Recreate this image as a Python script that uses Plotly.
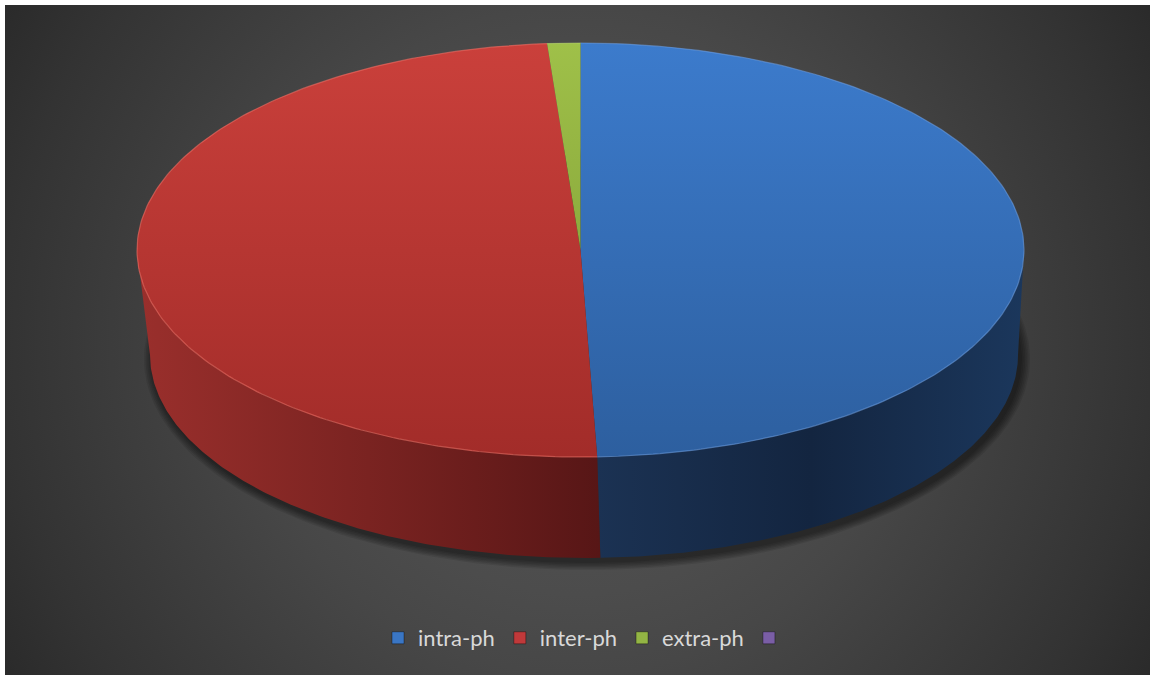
import numpy as np
import plotly.graph_objects as go

# ---- data ----
categories = ["intra-ph", "inter-ph", "extra-ph", " "]
values = [49.4, 49.4, 1.2, 0.0]

# ---- styles ----
top_colors = [("#3c7bcc", "#2d5f9f"), ("#ca403b", "#a22c29"), ("#9fc049", "#8cab3d"), ("#8064a2", "#6a5088")]
side_scales = [
    [[0, "#1b3253"], [0.5, "#132540"], [1, "#1b375c"]],
    [[0, "#9a2f2c"], [0.5, "#7a2321"], [1, "#571616"]],
    [[0, "#6f8a2c"], [1, "#5a7222"]],
    [[0, "#4f3a68"], [1, "#3e2d52"]],
]
legend_colors = ["#3a76c4", "#c0393a", "#93b544", "#7a5ea6"]
rim_colors = ["rgba(110,160,230,0.55)", "rgba(240,110,100,0.6)", "rgba(190,220,120,0.5)", "rgba(160,130,200,0.5)"]

W, H = 1150, 675
X0, Y0 = 5, 5                                   # white border of the page
cx, cy, a, b = 580.5, 250.0, 443.5, 207.0      # top face ellipse (px)
bx, by, ba, bb = 584.0, 355.0, 434.0, 203.0    # bottom ellipse (px)


def top_pts(t):
    return cx + a * np.sin(t), cy - b * np.cos(t)


def bot_pts(t):
    return bx + ba * np.sin(t), by - bb * np.cos(t)


fig = go.Figure()

# background (circular radial gradient: square bounding box, clipped by plot area)
gcx, gcy, gr = 577, 340, 668
fig.add_trace(go.Scatter(
    x=[gcx - gr, gcx + gr, gcx + gr, gcx - gr, gcx - gr],
    y=[gcy - gr, gcy - gr, gcy + gr, gcy + gr, gcy - gr],
    mode="lines", fill="toself", line=dict(width=0),
    fillgradient=dict(type="radial", colorscale=[[0, "#565656"], [0.38, "#4c4c4c"], [0.5, "#474747"],
                                                  [0.86, "#333333"], [1, "#2a2a2a"]]),
    hoverinfo="skip", showlegend=False))

# soft shadow under the pie
tt = np.linspace(0, 2 * np.pi, 240)
for k in range(6):
    sx = bx + 3 + (ba + 1 + 1.6 * k) * np.sin(tt)
    sy = by + 4 - (bb + 1 + 1.4 * k) * np.cos(tt)
    fig.add_trace(go.Scatter(x=sx, y=sy, mode="lines", fill="toself", line=dict(width=0),
                             fillcolor="rgba(0,0,0,0.09)", hoverinfo="skip", showlegend=False))

total = float(sum(values))
cum = 0.0
slices = []
for v in values:
    t0 = 2 * np.pi * cum / total
    t1 = 2 * np.pi * (cum + v) / total
    cum += v
    slices.append((t0, t1))

# side faces
for i, (t0, t1) in enumerate(slices):
    lo, hi = max(t0, np.pi / 2), min(t1, 3 * np.pi / 2)
    if hi <= lo:
        continue
    ts = np.linspace(lo, hi, 160)
    x1, y1 = top_pts(ts)
    x2, y2 = bot_pts(ts[::-1])
    xs = np.concatenate([x1, x2, x1[:1]])
    ys = np.concatenate([y1, y2, y1[:1]])
    fig.add_trace(go.Scatter(x=xs, y=ys, mode="lines", fill="toself", line=dict(width=0),
                             fillgradient=dict(type="horizontal", colorscale=side_scales[i]),
                             hoverinfo="skip", showlegend=False))

# top faces
for i, (t0, t1) in enumerate(slices):
    if t1 <= t0:
        continue
    ts = np.linspace(t0, t1, max(4, int(400 * (t1 - t0) / (2 * np.pi))))
    x1, y1 = top_pts(ts)
    xs = np.concatenate([[cx], x1, [cx]])
    ys = np.concatenate([[cy], y1, [cy]])
    c1, c2 = top_colors[i]
    fig.add_trace(go.Scatter(x=xs, y=ys, mode="lines", fill="toself", line=dict(width=0),
                             fillgradient=dict(type="vertical", colorscale=[[0, c2], [1, c1]]),
                             hoverinfo="skip", showlegend=False))
    fig.add_trace(go.Scatter(x=x1, y=y1, mode="lines", line=dict(width=1.2, color=rim_colors[i]),
                             hoverinfo="skip", showlegend=False))

# legend entries
for i, name in enumerate(categories):
    fig.add_trace(go.Scatter(x=[None], y=[None], mode="markers", name=name,
                             marker=dict(symbol="square", size=12, color=legend_colors[i],
                                         line=dict(width=1, color="rgba(0,0,0,0.35)")),
                             showlegend=True))

fig.update_layout(
    width=W - X0, height=H - Y0, margin=dict(l=0, r=0, t=0, b=0),
    paper_bgcolor="white", plot_bgcolor="rgba(0,0,0,0)",
    xaxis=dict(range=[X0, W], visible=False, fixedrange=True),
    yaxis=dict(range=[H, Y0], visible=False, fixedrange=True),
    showlegend=True,
    legend=dict(orientation="h", x=(589 - X0) / (W - X0), xanchor="center",
                y=(H - 638) / (H - Y0), yanchor="middle",
                font=dict(family="Lato, Open Sans, sans-serif", size=22, color="#d9d9d9"),
                bgcolor="rgba(0,0,0,0)", itemwidth=30, tracegroupgap=0),
)

fig.write_html("out.html", post_script="document.body.style.margin='5px 0 0 5px';document.body.style.overflow='hidden';")
